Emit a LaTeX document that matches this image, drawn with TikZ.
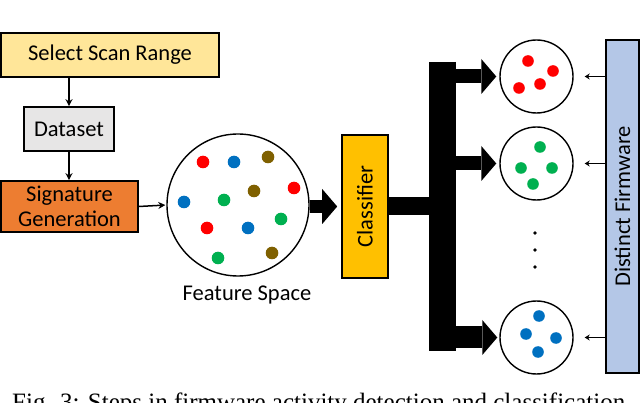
\documentclass[tikz,border=0pt]{standalone}
\usepackage{fontspec}
\setmainfont{Carlito}
\newfontfamily\capfont{Liberation Serif}
\usetikzlibrary{arrows.meta}

\begin{document}
\begin{tikzpicture}[x=1pt,y=-1pt,
    caja/.style={draw,line width=1.6pt,inner sep=0pt,align=center,
        font=\fontsize{22.5}{25}\selectfont},
    nube/.style={draw,circle,line width=1.4pt,inner sep=0pt},
    flecha/.style={line width=1.5pt,-{Stealth[length=7pt,width=7pt]}},
    fina/.style={line width=1.2pt,-{Stealth[length=5pt,width=6pt]}},
    gorda/.style={line width=#1,-{Triangle[length=15pt,width=35pt,line width=0pt]}}]
        %colores
        \definecolor{amarillo}{HTML}{FFE699}
        \definecolor{gris}{HTML}{E7E6E6}
        \definecolor{naranja}{HTML}{ED7D31}
        \definecolor{oro}{HTML}{FFC000}
        \definecolor{celeste}{HTML}{B4C7E7}
        \definecolor{rojo}{HTML}{FF0000}
        \definecolor{azul}{HTML}{0070C0}
        \definecolor{verde}{HTML}{00B050}
        \definecolor{marron}{HTML}{7F6000}

        \useasboundingbox (0,0) rectangle (640,403);

        % Pasos a la izquierda
        \node[caja,fill=amarillo,minimum width=218pt,minimum height=44pt] (sel) at (110,55) {Select Scan Range};
        \node[caja,fill=gris,minimum width=90pt,minimum height=44pt] (data) at (69,129) {Dataset};
        \node[caja,fill=naranja,minimum width=137pt,minimum height=51pt] (sig) at (69.5,206.5) {Signature\\Generation};
        \draw[flecha] (data.north |- sel.south) -- (data.north);
        \draw[flecha] (data.south) -- (sig.north -| data.south);

        % Espacio de caracteristicas
        \node[nube,minimum size=142pt] (feat) at (238,205) {};
        \node[font=\fontsize{22.5}{25}\selectfont] (featlbl) at (247,295) {Feature Space};
        \foreach \x/\y/\c in {203/162/rojo, 234/162/azul, 268/157/marron, 294/188/rojo,
            254/191/marron, 184/202/azul, 224/200/verde, 281/219/verde,
            207/228/rojo, 248/228/azul, 218/258/verde, 272/253/marron}
            \fill[\c] (\x,\y) circle (6.3pt);
        \draw[flecha,shorten >=1pt] (sig.east) -- (feat.west);

        % Clasificador
        \node[caja,fill=oro,minimum width=46pt,minimum height=143pt] (class) at (365,206.5) {\rotatebox{90}{Classifier}};
        \draw[gorda=13pt,shorten >=4pt] (feat.east |- class.west) -- (class.west);

        % Grupos de firmware
        \node[nube,minimum size=73pt] (c1) at (536.5,76.5) {};
        \node[nube,minimum size=73pt] (c2) at (536.5,163.5) {};
        \node[nube,minimum size=73pt] (c3) at (536.5,337.5) {};
        \foreach \x/\y in {528/61, 553/71, 540/84, 519/88}
            \fill[rojo] (\x,\y) circle (5.8pt);
        \foreach \x/\y in {540/147, 521/168, 552/168, 533/184}
            \fill[verde] (\x,\y) circle (5.8pt);
        \foreach \x/\y in {539/316, 526/334, 556/338, 538/352}
            \fill[azul] (\x,\y) circle (5.8pt);
        \foreach \y in {233,250,267}
            \fill (535,\y) circle (1.8pt);

        % Bus
        \coordinate (bustop) at (442.5,62);
        \coordinate (busbot) at (442.5,351);
        \draw[line width=27pt] (bustop) -- (busbot);
        \draw[line width=18pt] (class.east) -- (class.east -| bustop);
        \draw[gorda=14pt,shorten >=3pt] (bustop |- c1) -- (c1.west);
        \draw[gorda=14pt,shorten >=3pt] (bustop |- c2) -- (c2.west);
        \draw[gorda=22pt,shorten >=2pt] (bustop |- c3) -- (c3.west);

        % Firmware distinto
        \node[caja,fill=celeste,minimum width=33pt,minimum height=333pt] (fw) at (622.5,206.5) {\rotatebox{90}{Distinct Firmware}};
        \draw[fina,shorten >=11pt] (fw.west |- c1) -- (c1.east);
        \draw[fina,shorten >=11pt] (fw.west |- c2) -- (c2.east);
        \draw[fina,shorten >=11pt] (fw.west |- c3) -- (c3.east);

        % Pie de figura
        \node[anchor=base west,inner sep=0pt,font=\capfont\fontsize{25}{28}\selectfont] (cap) at (12,410)
            {Fig. 3: Steps in firmware activity detection and classification};
\end{tikzpicture}
\end{document}
